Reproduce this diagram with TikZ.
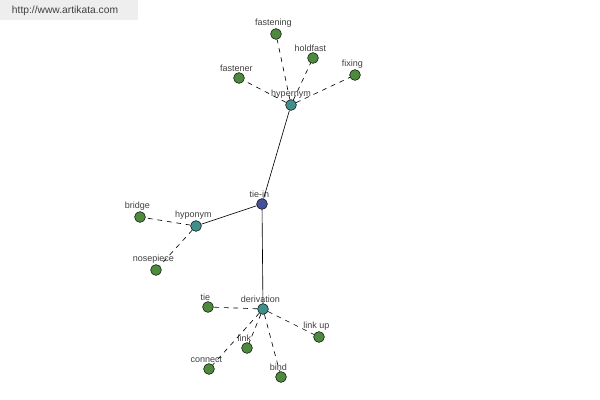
\documentclass[tikz,border=0pt]{standalone}
\usepackage{fontspec}
\setmainfont{Liberation Sans}
\usepackage{tikz}
\usetikzlibrary{positioning}
\definecolor{leafgreen}{HTML}{4E8A3E}
\definecolor{headteal}{HTML}{3F8F8C}
\definecolor{rootblue}{HTML}{44509A}
\definecolor{labelgrey}{HTML}{404040}
\definecolor{bannergrey}{HTML}{EEEEEE}

\begin{document}
\begin{tikzpicture}[x=0.025cm, y=-0.025cm,
  dot/.style={circle, draw=black, line width=0.35pt, inner sep=0pt, minimum size=0.27cm, fill=leafgreen},
  lbl/.style={font=\fontsize{6.4}{7}\selectfont, text=labelgrey, inner sep=0.5pt, label distance=0pt, xshift=-1.8pt},
  rel/.style={line width=0.45pt},
  weak/.style={line width=0.45pt, dash pattern=on 3.4pt off 3.4pt}]
\useasboundingbox[fill=white] (0,0) rectangle (600,400);
\fill[bannergrey] (0,0) rectangle (138,20);
\node[font=\fontsize{7.3}{8}\selectfont, text=labelgrey, anchor=west] (site) at (7,11) {http://www.artikata.com};

% centre and its three groups
\node[dot, fill=rootblue, label={[lbl]above:tie-in}] (tiein) at (262,204) {};
\node[dot, fill=headteal, label={[lbl, xshift=1.8pt]above:hypernym}] (hyper) at (291,105) {};
\node[dot, fill=headteal, label={[lbl]above:hyponym}] (hypo) at (196,226) {};
\node[dot, fill=headteal, label={[lbl]above:derivation}] (deriv) at (263,309) {};

% hypernym leaves
\node[dot, label={[lbl]above:fastening}] (fastening) at (276,34) {};
\node[dot, label={[lbl]above:holdfast}] (holdfast) at (313,58) {};
\node[dot, label={[lbl]above:fixing}] (fixing) at (355,75) {};
\node[dot, label={[lbl]above:fastener}] (fastener) at (239,78) {};

% hyponym leaves
\node[dot, label={[lbl]above:bridge}] (bridge) at (140,217) {};
\node[dot, label={[lbl]above:nosepiece}] (nosepiece) at (156,270) {};

% derivation leaves
\node[dot, label={[lbl]above:tie}] (tie) at (208,307) {};
\node[dot, label={[lbl]above:link up}] (linkup) at (319,337) {};
\node[dot, label={[lbl]above:link}] (link) at (247,348) {};
\node[dot, label={[lbl]above:connect}] (connect) at (209,369) {};
\node[dot, label={[lbl]above:bind}] (bind) at (281,377) {};

\draw[rel] (tiein) -- (hyper);
\draw[rel] (tiein) -- (hypo);
\draw[rel] (tiein) -- (deriv);

\foreach \leaf in {fastening, holdfast, fixing, fastener}
  \draw[weak] (hyper) -- (\leaf);
\foreach \leaf in {bridge, nosepiece}
  \draw[weak] (hypo) -- (\leaf);
\foreach \leaf in {tie, linkup, link, connect, bind}
  \draw[weak] (deriv) -- (\leaf);
\end{tikzpicture}
\end{document}
